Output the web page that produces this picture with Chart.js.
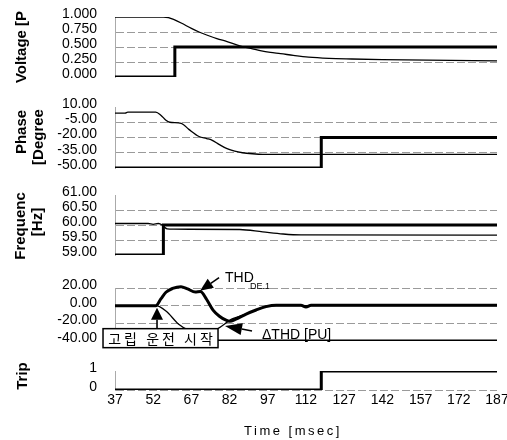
<!DOCTYPE html>
<html><head><meta charset="utf-8">
<script src="https://cdn.jsdelivr.net/npm/chart.js@4.4.1/dist/chart.umd.min.js"></script>
<style>
html,body{margin:0;padding:0;background:#fff;}
#wrap{position:relative;width:507px;height:440px;overflow:hidden;background:#fff;font-family:"Liberation Sans",Arial,sans-serif;}
.pane{position:absolute;left:0;width:520px;}
.yt{position:absolute;font-weight:bold;font-size:15px;color:#000;white-space:nowrap;transform:translate(-50%,-50%) rotate(-90deg);}
.xt{position:absolute;font-size:13px;color:#000;white-space:nowrap;letter-spacing:2.5px;transform:translate(-50%,-50%);}
</style></head><body>
<div id="wrap">
  <div class="pane" style="top:7px;height:80px"><canvas id="c1"></canvas></div>
  <div class="pane" style="top:97px;height:81px"><canvas id="c2"></canvas></div>
  <div class="pane" style="top:185px;height:80px"><canvas id="c3"></canvas></div>
  <div class="pane" style="top:262px;height:89px"><canvas id="c4"></canvas></div>
  <div class="pane" style="top:361px;height:60px"><canvas id="c5"></canvas></div>
  <div class="yt" style="left:20px;top:47px">Voltage [P</div>
  <div class="yt" style="left:20px;top:132px">Phase</div>
  <div class="yt" style="left:37px;top:137px">[Degree</div>
  <div class="yt" style="left:19px;top:226px">Frequenc</div>
  <div class="yt" style="left:36px;top:222px">[Hz]</div>
  <div class="yt" style="left:21px;top:376px">Trip</div>
  <div class="xt" style="left:293px;top:430px">Time [msec]</div>
</div>
<script>
// ---- shared x axis ----
const timeMin = 37, timeMax = 187, timeStep = 15;

// ---- Voltage [PU] ----
const voltTimes  = [37, 56, 58, 60, 63, 67, 70, 73, 77, 81, 86, 91, 94, 98, 102, 107, 113, 121, 130, 142, 160, 187];
const voltValues = [1.0, 1.0, 0.99, 0.96, 0.9, 0.81, 0.75, 0.7, 0.64, 0.59, 0.52, 0.47, 0.44, 0.41, 0.39, 0.36, 0.33, 0.31, 0.30, 0.29, 0.28, 0.27];
const voltStepTimes  = [37, 60.5, 60.5, 187];
const voltStepValues = [0, 0, 0.5, 0.5];

// ---- Phase [Degree] ----
const phaseTimes  = [37, 41, 42, 53, 55, 57, 58.5, 63, 66, 70, 73, 75, 78, 81, 84, 87, 91, 95, 187];
const phaseValues = [4, 4, 5, 5, 2, -3, -5, -6, -12, -19, -21, -22.5, -27, -31, -33.5, -35, -36, -36.5, -36.5];
const phaseStepTimes  = [37, 118, 118, 187];
const phaseStepValues = [-50, -50, -20, -20];

// ---- Frequency [Hz] ----
const freqTimes  = [37, 50, 52, 54, 55.5, 56.5, 57.5, 60, 86, 95, 103, 110, 187];
const freqValues = [60.05, 60.05, 60.02, 60.05, 60.0, 59.92, 59.87, 59.86, 59.85, 59.77, 59.7, 59.67, 59.66];
const freqStepTimes  = [37, 56, 56, 187];
const freqStepValues = [59, 59, 60, 60];

// ---- THD ----
const thdTimes  = [37, 53, 55, 57, 59.6, 62.9, 65.5, 68.5, 70.5, 73, 75.5, 78, 80.6, 82, 84.5, 88.5, 92.4, 96.3, 100.3, 110, 112, 114, 187];
const thdValues = [0, 0, 7.6, 15.2, 19.5, 21.5, 19, 15.5, 16, 7, -5, -12, -16.5, -17.7, -15.2, -9.5, -4.9, -1.1, 0.5, 0.5, -1.5, 0.5, 0.5];
const dthdTimes  = [37, 53, 57, 62, 65.5, 70, 76.6, 83, 87, 91.7, 97.6, 187];
const dthdValues = [0, 0, -6, -21, -27, -30, -27, -15, -11, -6, 0, 0];
const flagTimes  = [37, 187];
const flagValues = [-40, -40];
const startMarkTime = 53.5;          // 고립 운전 시작
const deMarkTime = 70.4, deMarkValue = 17;
const dMarkTime = 80.2, dMarkValue = -23;

// ---- Trip ----
const tripTimes  = [37, 118, 118, 187];
const tripValues = [0, 0, 1, 1];

const FONT = '"Liberation Sans", Arial, sans-serif';
const pts = (xs, ys) => xs.map((x, i) => ({x, y: ys[i]}));
const thin = (xs, ys, extra) => Object.assign({data: pts(xs, ys), borderColor:'#000', borderWidth:1.3, pointRadius:0, cubicInterpolationMode:'monotone', tension:0.4}, extra||{});
const thick = (xs, ys, extra) => Object.assign({data: pts(xs, ys), borderColor:'#000', borderWidth:3, pointRadius:0, tension:0}, extra||{});

function yAxis(min, max, step, dec, hidden) {
  return {
    min, max,
    ticks: {stepSize: step, autoSkip:false, callback: v => Number(v).toFixed(dec), color:'#000',
            font:{size:14, family:FONT}, padding:18, labelOffset:-3},
    grid: {drawTicks:false, lineWidth:1,
           color: c => hidden.some(h => Math.abs(h - c.tick.value) < 1e-9) ? 'rgba(0,0,0,0)' : '#9a9a9a'},
    border: {display:true, color:'#aaa', dash:[8,3], width:1},
    afterFit: s => { s.width = 115; s.paddingTop = 0; s.paddingBottom = 0; }
  };
}
function xAxis(show) {
  return {
    type:'linear', min: timeMin, max: timeMax, display: show,
    ticks: {stepSize: timeStep, color:'#000', font:{size:14, family:FONT}, padding:2, maxRotation:0, autoSkip:false},
    grid: {display:false, drawTicks:false},
    border: {display:false},
    afterFit: s => { s.paddingLeft = 0; s.paddingRight = 0; }
  };
}
function make(id, datasets, y, showX, pad, plugins) {
  new Chart(document.getElementById(id), {
    type:'line',
    data:{datasets},
    options:{
      responsive:true, maintainAspectRatio:false, animation:false,
      layout:{padding:pad},
      plugins:{legend:{display:false}, tooltip:{enabled:false}},
      scales:{x: xAxis(showX), y},
      elements:{line:{borderCapStyle:'butt', borderJoinStyle:'miter'}}
    },
    plugins: plugins || []
  });
}

function arrow(ctx, x1, y1, x2, y2, len, w) {
  const a = Math.atan2(y2 - y1, x2 - x1);
  const bx = x2 - len * Math.cos(a), by = y2 - len * Math.sin(a);
  ctx.beginPath(); ctx.moveTo(x1, y1); ctx.lineTo(bx, by); ctx.lineWidth = 1.6; ctx.stroke();
  ctx.beginPath();
  ctx.moveTo(x2, y2);
  ctx.lineTo(bx + w/2 * Math.sin(a), by - w/2 * Math.cos(a));
  ctx.lineTo(bx - w/2 * Math.sin(a), by + w/2 * Math.cos(a));
  ctx.closePath(); ctx.fill();
}
const annoPlugin = {
  id:'anno',
  afterDatasetsDraw(chart){
    const {ctx, scales:{x, y}} = chart;
    ctx.save();
    ctx.strokeStyle = '#000'; ctx.fillStyle = '#000';
    // island start marker + box
    const sx = x.getPixelForValue(startMarkTime), sy = y.getPixelForValue(0);
    const bTop = sy + 23, bBot = sy + 42, bL = sx - 54, bR = sx + 61;
    arrow(ctx, sx, bTop, sx, sy + 2, 12, 12);
    ctx.fillStyle = '#fff'; ctx.fillRect(bL, bTop, bR - bL, bBot - bTop);
    ctx.lineWidth = 1.5; ctx.strokeRect(bL, bTop, bR - bL, bBot - bTop);
    ctx.fillStyle = '#000';
    ctx.font = '14px "Noto Sans CJK KR", sans-serif';
    ctx.textAlign = 'center'; ctx.textBaseline = 'middle';
    try { ctx.letterSpacing = '3px'; } catch(e) {}
    ctx.fillText('고립 운전 시작', (bL + bR) / 2 + 1.5, (bTop + bBot) / 2 + 1);
    try { ctx.letterSpacing = '0px'; } catch(e) {}
    // THD_DE.1
    const dx = x.getPixelForValue(deMarkTime), dy = y.getPixelForValue(deMarkValue);
    arrow(ctx, dx + 19, dy - 13, dx, dy, 13, 11);
    ctx.textAlign = 'left'; ctx.textBaseline = 'alphabetic';
    ctx.font = '14px ' + FONT;
    ctx.fillText('THD', dx + 25, dy - 9);
    ctx.font = '9px ' + FONT;
    ctx.fillText('DE.1', dx + 50, dy - 2);
    // ΔTHD [PU]
    const tx = x.getPixelForValue(dMarkTime), ty = y.getPixelForValue(dMarkValue);
    arrow(ctx, tx + 27, ty + 5, tx, ty, 17, 12);
    ctx.font = '14px ' + FONT;
    ctx.fillText('ΔTHD [PU]', tx + 37, ty + 13);
    ctx.restore();
  }
};

const P = (t, b) => ({left:0, right:23, top:t, bottom:b});
make('c1', [thin(voltTimes, voltValues), thick(voltStepTimes, voltStepValues)],
     yAxis(0, 1, 0.25, 3, [0, 1]), false, P(10, 10));
make('c2', [thin(phaseTimes, phaseValues), thick(phaseStepTimes, phaseStepValues)],
     yAxis(-50, 10, 15, 2, [-50, 10]), false, P(10, 10));
make('c3', [thin(freqTimes, freqValues), thick(freqStepTimes, freqStepValues)],
     yAxis(59, 61, 0.5, 2, [59, 61]), false, P(10, 10));
make('c4', [thin(dthdTimes, dthdValues, {clip:false}), thick(thdTimes, thdValues, {clip:false, cubicInterpolationMode:'monotone', tension:0.4}), thick(flagTimes, flagValues)],
     yAxis(-40, 20, 20, 2, [-40]), false, P(26, 10), [annoPlugin]);
make('c5', [thick(tripTimes, tripValues)],
     yAxis(0, 1, 1, 0, [1]), true, P(10, 12));
</script>
</body></html>
